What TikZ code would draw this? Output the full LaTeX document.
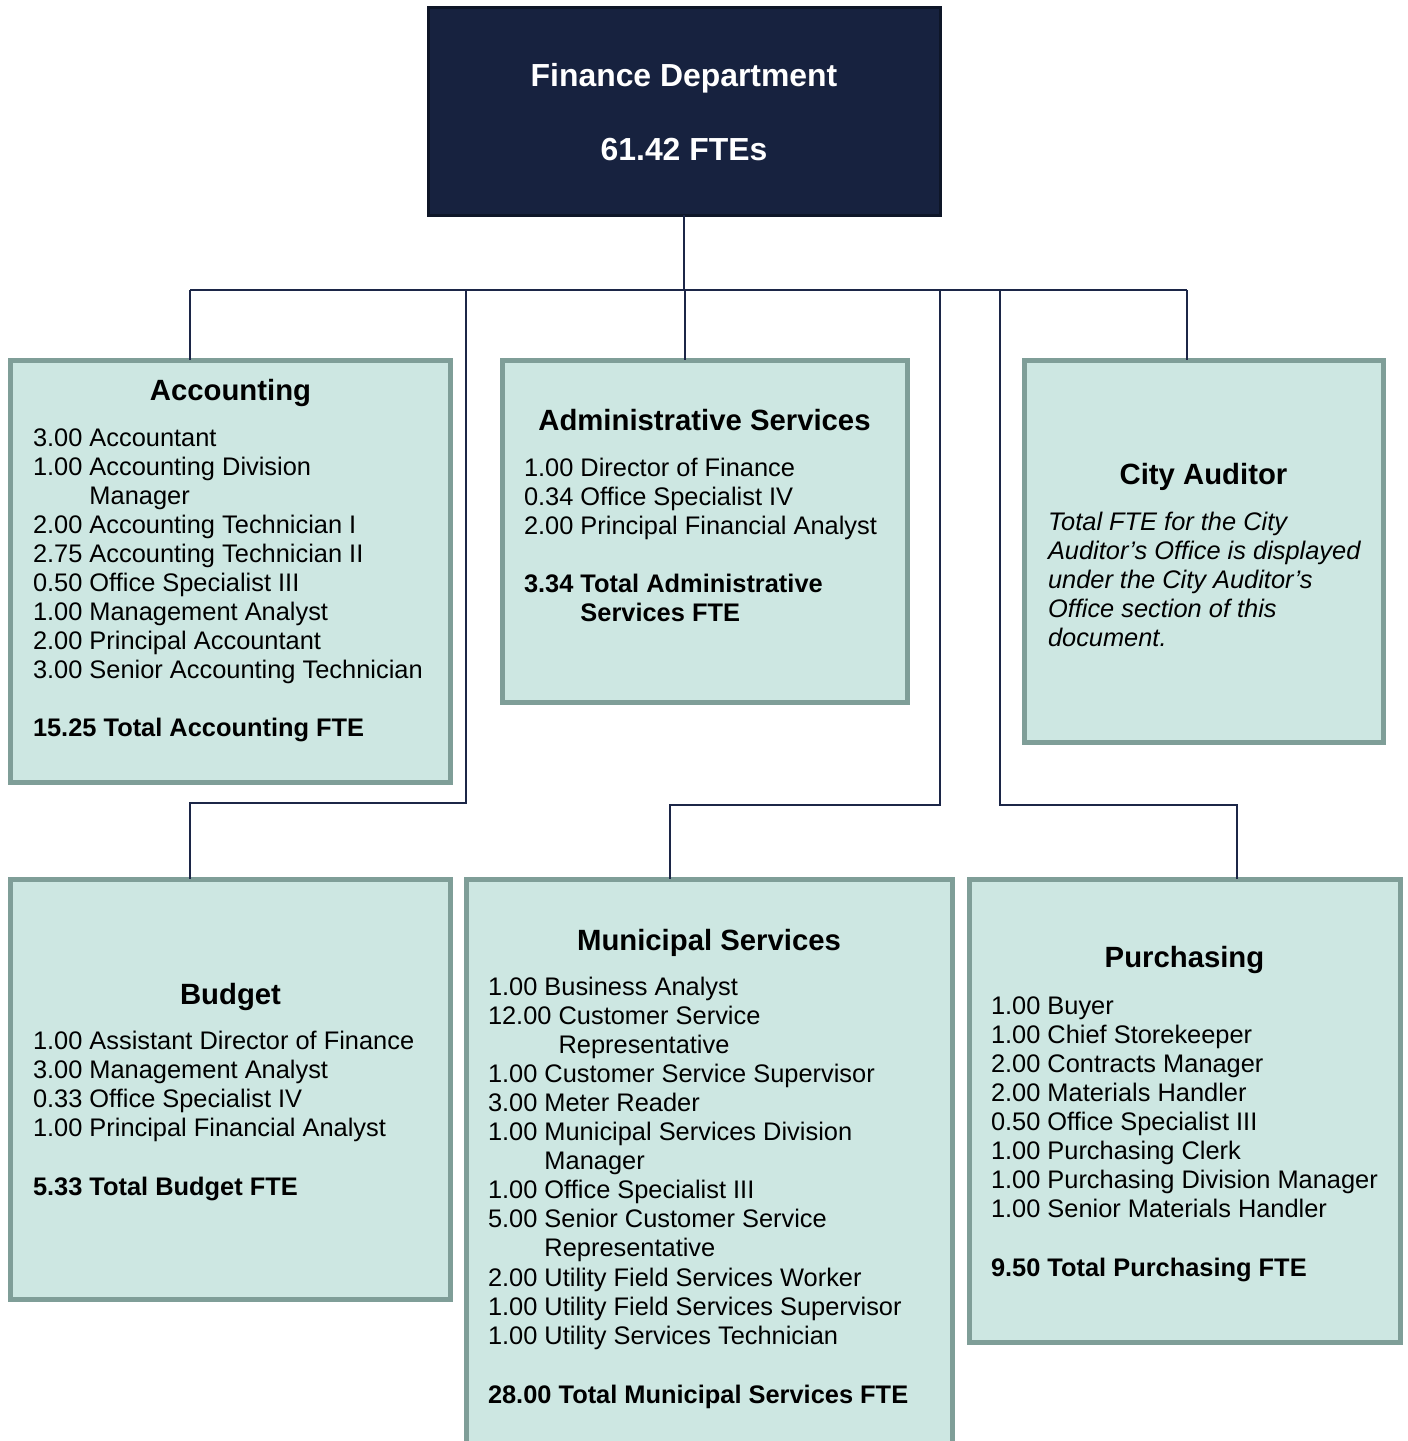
\documentclass[tikz,border=0pt]{standalone}
\usepackage{fontspec}
\setmainfont{Liberation Sans}
\definecolor{navy}{HTML}{17223F}
\definecolor{navyline}{HTML}{0E1628}
\definecolor{linkc}{HTML}{1C2647}
\definecolor{unitfill}{HTML}{CDE7E2}
\definecolor{unitline}{HTML}{7F9E98}
\newcommand\itemlist[5]{%
  \foreach \t [count=\i from 0] in {#5} {\node[#2] (#1-\i) at (#3, {#4+29.1*\i}) {\t};}}
\begin{document}
\begin{tikzpicture}[x=1pt,y=-1pt,
  every node/.style={inner sep=0pt, outer sep=0pt},
  unit/.style={draw=unitline, fill=unitfill, line width=5pt, rectangle, anchor=north west},
  head/.style={font=\fontsize{29.3}{34}\selectfont\bfseries, anchor=base},
  item/.style={font=\fontsize{25.4}{29}\selectfont, anchor=base west},
  sumline/.style={font=\fontsize{25.4}{29}\selectfont\bfseries, anchor=base west},
  note/.style={font=\fontsize{25.4}{29}\selectfont\itshape, anchor=base west},
  toptext/.style={font=\fontsize{31.9}{36}\selectfont\bfseries, text=white, anchor=base},
  link/.style={draw=linkc, line width=2pt}]
\useasboundingbox (0,0) rectangle (1408,1441);
\clip (0,0) rectangle (1408,1441);

% top box
\node[draw=navyline, fill=navy, line width=3pt, rectangle, anchor=north west,
      minimum width=512pt, minimum height=208pt] (top) at (428,7) {};
\node[toptext] (topa) at (684,86) {Finance Department};
\node[toptext] (topb) at (684,160) {61.42 FTEs};

% unit boxes
\node[unit, minimum width=440pt, minimum height=422pt] (acc) at (10.5,360) {};
\node[unit, minimum width=405pt, minimum height=342pt] (adm) at (502,360) {};
\node[unit, minimum width=359pt, minimum height=382pt] (aud) at (1024,360) {};
\node[unit, minimum width=440pt, minimum height=420pt] (bud) at (10.5,879) {};
\node[unit, minimum width=486pt, minimum height=600pt] (mun) at (466,879) {};
\node[unit, minimum width=431pt, minimum height=463pt] (pur) at (969,879) {};

% connectors
\coordinate (hub) at (684,290);
\coordinate (busL) at (190,290);
\coordinate (busR) at (1187,290);
\coordinate (jB) at (466,290);
\coordinate (kB) at (466,803);
\coordinate (lB) at (190,803);
\coordinate (jA) at (685,290);
\coordinate (jM) at (940,290);
\coordinate (kM) at (940,805);
\coordinate (lM) at (670,805);
\coordinate (jP) at (1000,290);
\coordinate (kP) at (1000,805);
\coordinate (lP) at (1237,805);
\draw[link] (top.south) -- (hub);
\draw[link] (busL) -- (busR);
\draw[link] (busL) -- (busL |- acc.north);
\draw[link] (jA) -- (jA |- adm.north);
\draw[link] (busR) -- (busR |- aud.north);
\draw[link] (jB) -- (kB) -- (lB) -- (lB |- bud.north);
\draw[link] (jM) -- (kM) -- (lM) -- (lM |- mun.north);
\draw[link] (jP) -- (kP) -- (lP) -- (lP |- pur.north);

% Accounting
\node[head] (acc-h) at (230.5,400) {Accounting};
\itemlist{acc}{item}{33}{446}{3.00 Accountant, 1.00 Accounting Division, {\phantom{1.00 }Manager}, 2.00 Accounting Technician I, 2.75 Accounting Technician II, 0.50 Office Specialist III, 1.00 Management Analyst, 2.00 Principal Accountant, 3.00 Senior Accounting Technician}
\node[sumline] (acc-t) at (33,736) {15.25 Total Accounting FTE};

% Administrative Services
\node[head] (adm-h) at (704.5,430) {Administrative Services};
\itemlist{adm}{item}{524}{476}{1.00 Director of Finance, 0.34 Office Specialist IV, 2.00 Principal Financial Analyst}
\itemlist{admt}{sumline}{524}{592}{3.34 Total Administrative, {\phantom{3.34 }Services FTE}}

% City Auditor
\node[head] (aud-h) at (1203.5,484) {City Auditor};
\itemlist{aud}{note}{1048}{530}{Total FTE for the City, Auditor’s Office is displayed, under the City Auditor’s, Office section of this, document.}

% Budget
\node[head] (bud-h) at (230.5,1004) {Budget};
\itemlist{bud}{item}{33}{1049}{1.00 Assistant Director of Finance, 3.00 Management Analyst, 0.33 Office Specialist IV, 1.00 Principal Financial Analyst}
\node[sumline] (bud-t) at (33,1195) {5.33 Total Budget FTE};

% Municipal Services
\node[head] (mun-h) at (709,950) {Municipal Services};
\itemlist{mun}{item}{488}{995}{1.00 Business Analyst, 12.00 Customer Service, {\phantom{12.00 }Representative}, 1.00 Customer Service Supervisor, 3.00 Meter Reader, 1.00 Municipal Services Division, {\phantom{1.00 }Manager}, 1.00 Office Specialist III, 5.00 Senior Customer Service, {\phantom{5.00 }Representative}, 2.00 Utility Field Services Worker, 1.00 Utility Field Services Supervisor, 1.00 Utility Services Technician}
\node[sumline] (mun-t) at (488,1403) {28.00 Total Municipal Services FTE};

% Purchasing
\node[head] (pur-h) at (1184.5,967) {Purchasing};
\itemlist{pur}{item}{991}{1014}{1.00 Buyer, 1.00 Chief Storekeeper, 2.00 Contracts Manager, 2.00 Materials Handler, 0.50 Office Specialist III, 1.00 Purchasing Clerk, 1.00 Purchasing Division Manager, 1.00 Senior Materials Handler}
\node[sumline] (pur-t) at (991,1276) {9.50 Total Purchasing FTE};
\end{tikzpicture}
\end{document}
